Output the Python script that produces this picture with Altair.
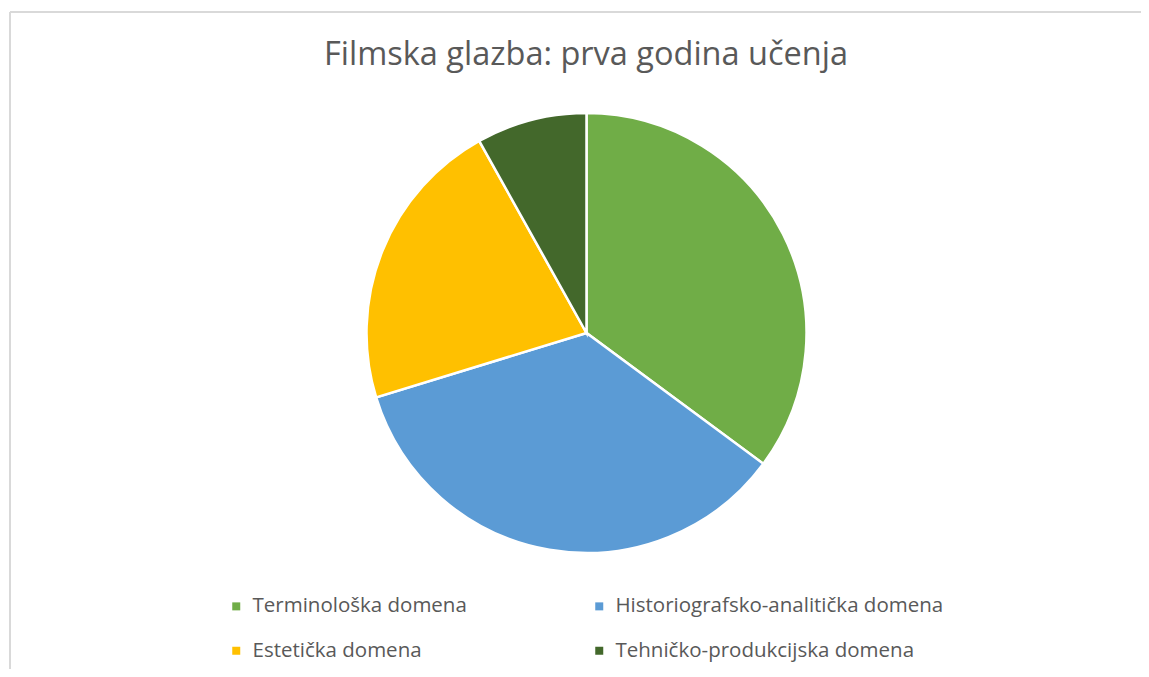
import altair as alt
import pandas as pd

categories = ["Terminološka domena", "Historiografsko-analitička domena",
              "Estetička domena", "Tehničko-produkcijska domena"]
values = [13, 13, 8, 3]
colors = ["#70AD47", "#5B9BD5", "#FFC000", "#43682B"]
legend_order = ["Terminološka domena", "Estetička domena",
                "Historiografsko-analitička domena", "Tehničko-produkcijska domena"]

df = pd.DataFrame({"domena": categories, "vrijednost": values, "order": list(range(len(values)))})

W, H = 1131, 657
FONT = "Open Sans"

pie = alt.Chart(df).mark_arc(outerRadius=220, stroke="white", strokeWidth=2.5).encode(
    theta=alt.Theta("vrijednost:Q", stack=True),
    order=alt.Order("order:Q"),
    x=alt.value(576.5),
    y=alt.value(321),
    color=alt.Color(
        "domena:N",
        scale=alt.Scale(domain=categories, range=colors),
        legend=alt.Legend(
            title=None, orient="none", legendX=216, legendY=584,
            columns=2, symbolType="square", symbolSize=64,
            values=legend_order,
            symbolStrokeWidth=0, labelFontSize=20.5, labelFont=FONT,
            labelColor="#595959", labelOffset=6, rowPadding=23.5,
            columnPadding=122, labelLimit=500,
        ),
    ),
)

border_top = alt.Chart(df).mark_rule(color="#d9d9d9", strokeWidth=1.5).encode(
    x=alt.value(0), x2=alt.value(W + 20), y=alt.value(0)
)
border_left = alt.Chart(df).mark_rule(color="#d9d9d9", strokeWidth=1.5).encode(
    x=alt.value(0), y=alt.value(0), y2=alt.value(H + 20)
)

chart = alt.layer(border_top, border_left, pie).properties(
    width=W, height=H,
    autosize=alt.AutoSizeParams(type="none"),
    padding={"left": 2, "top": 4, "right": 0, "bottom": 0},
    title=alt.TitleParams(
        "Filmska glazba: prva godina učenja", fontSize=32.5, font=FONT,
        fontWeight="normal", color="#595959", anchor="middle",
        baseline="alphabetic", offset=-54, dy=32, dx=10.5,
    ),
).configure_view(stroke=None)

chart.save("out.html", embed_options={"renderer": "svg", "actions": False})
